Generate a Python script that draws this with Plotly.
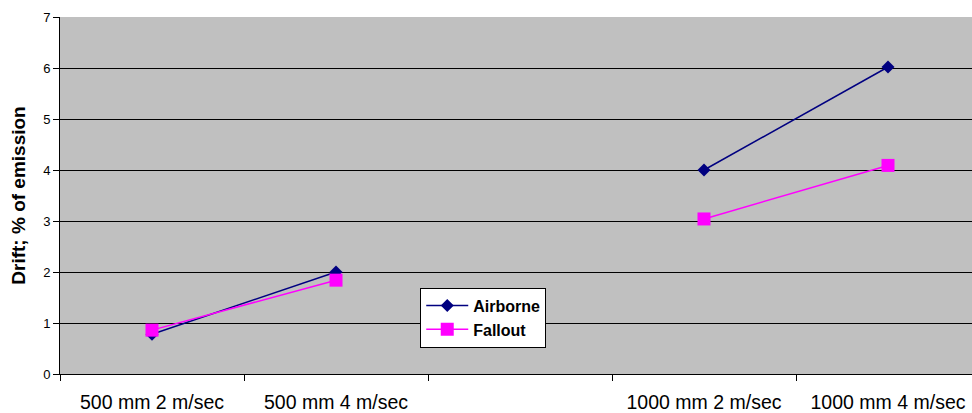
import plotly.graph_objects as go

# Nozzle size / wind speed settings (middle slot intentionally left empty)
categories = ["500 mm 2 m/sec", "500 mm 4 m/sec", " ", "1000 mm 2 m/sec", "1000 mm 4 m/sec"]
airborne = [0.78, 2.0, None, 4.0, 6.02]
fallout = [0.86, 1.84, None, 3.04, 4.09]
y_ticks = [0, 1, 2, 3, 4, 5, 6, 7]

fig = go.Figure()
fig.add_trace(go.Scatter(
    x=categories, y=airborne, name="Airborne", mode="lines+markers",
    line=dict(color="#000080", width=1.5),
    marker=dict(symbol="diamond", size=10, color="#000080"),
    connectgaps=False,
))
fig.add_trace(go.Scatter(
    x=categories, y=fallout, name="Fallout", mode="lines+markers",
    line=dict(color="#FF00FF", width=1.5),
    marker=dict(symbol="square", size=13, color="#FF00FF"),
    connectgaps=False,
))

fig.update_layout(
    width=972, height=413,
    margin=dict(l=60, r=0, t=17, b=37),
    paper_bgcolor="white",
    plot_bgcolor="#C0C0C0",
    font=dict(family="Liberation Sans, Arial, sans-serif", color="black"),
    showlegend=True,
    legend=dict(
        x=0.395, y=0.242, xanchor="left", yanchor="top",
        bgcolor="white", bordercolor="black", borderwidth=1,
        font=dict(size=16, family="Liberation Sans, Arial, sans-serif", color="black",
                  weight="bold"),
        tracegroupgap=0, itemwidth=42,
    ),
)

fig.update_xaxes(
    type="category",
    categoryorder="array", categoryarray=categories,
    range=[-0.5, 4.4565],
    tickson="boundaries",
    ticks="outside", ticklen=6, tickcolor="black", tickwidth=1,
    ticklabelstandoff=11,
    showline=True, linecolor="black", linewidth=1,
    showgrid=False, zeroline=False,
    tickfont=dict(size=19.5),
)
fig.update_yaxes(
    range=[0, 7], tickvals=y_ticks,
    ticks="outside", ticklen=6, tickcolor="black", tickwidth=1,
    showline=True, linecolor="black", linewidth=1,
    showgrid=True, gridcolor="black", gridwidth=1,
    zeroline=False,
    tickfont=dict(size=13),
    title=dict(text="Drift; % of emission", standoff=12,
               font=dict(size=19, weight="bold")),
)

fig.write_html("out.html")
